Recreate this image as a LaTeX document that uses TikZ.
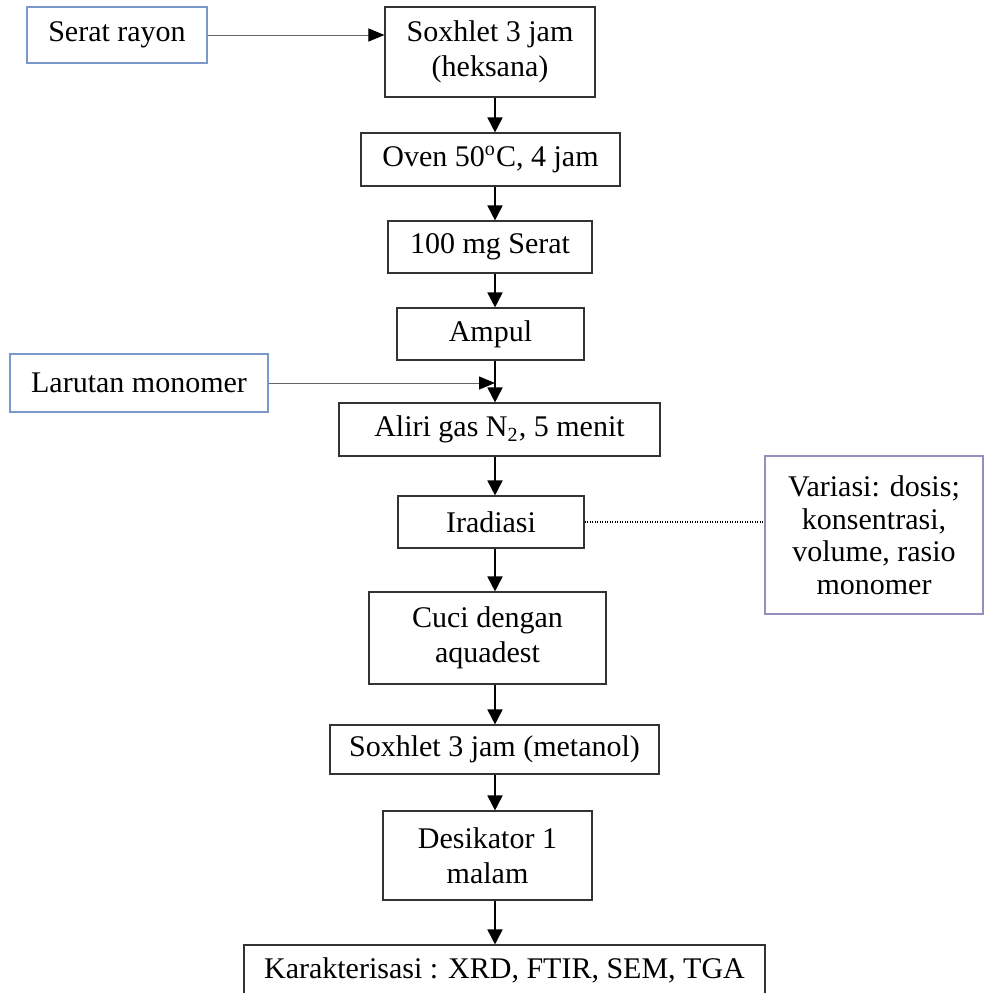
\documentclass[tikz,border=0pt]{standalone}
\usepackage{fontspec}
\setmainfont{Liberation Serif}
\usetikzlibrary{arrows.meta}
\definecolor{inblue}{RGB}{122,152,204}
\definecolor{varpurple}{RGB}{150,140,190}
\tikzset{
  box/.style={draw=black!80, line width=0.45pt, inner sep=0pt, align=center,
    font=\fontsize{12}{13.8}\selectfont},
  inbox/.style={box, draw=inblue},
  varbox/.style={box, draw=varpurple, font=\fontsize{12}{13}\selectfont},
  arr/.style={-{Triangle[length=6pt,width=6pt]}, line width=0.7pt},
  feed/.style={-{Triangle[length=6.4pt,width=5.2pt,color=black]}, line width=0.4pt, draw=black!60},
}
\begin{document}
\begin{tikzpicture}[x=0.4pt,y=-0.4pt]
\useasboundingbox (0,0) rectangle (984,993);
\fill[white] (0,0) rectangle (984,993);
\node[inbox, minimum width=72pt, minimum height=22.4pt] (serat) at (117,35) {Serat rayon};
\node[box, minimum width=84pt, minimum height=36pt] (sox1) at (490,52) {Soxhlet 3 jam\\(heksana)};
\node[box, minimum width=103.6pt, minimum height=21.2pt] (oven) at (490.5,159.5) {Oven 50\textsuperscript{o}C, 4 jam};
\node[box, minimum width=81.6pt, minimum height=20.8pt] (mg) at (490,247) {100 mg Serat};
\node[box, minimum width=74.8pt, minimum height=20.8pt] (ampul) at (490.5,334) {Ampul};
\node[inbox, minimum width=103.2pt, minimum height=23.2pt] (larutan) at (139,383) {Larutan monomer};
\node[box, minimum width=128.4pt, minimum height=21.2pt] (aliri) at (499.5,429.5) {Aliri gas N\textsubscript{2}, 5 menit};
\node[box, minimum width=74.4pt, minimum height=20.8pt] (irad) at (491,522) {Iradiasi};
\node[varbox, minimum width=87.2pt, minimum height=63.2pt] (variasi) at (874,535) {Variasi: dosis;\\konsentrasi,\\volume, rasio\\monomer};
\node[box, minimum width=94.8pt, minimum height=36.8pt] (cuci) at (487.5,638) {Cuci dengan\\aquadest};
\node[box, minimum width=131.6pt, minimum height=19.6pt] (sox2) at (494.5,749.5) {Soxhlet 3 jam (metanol)};
\node[box, minimum width=83.6pt, minimum height=35.6pt] (desik) at (487.5,855.5) {Desikator 1\\malam};
\node[box, minimum width=208.4pt, minimum height=20pt] (karak) at (504.5,970) {Karakterisasi : XRD, FTIR, SEM, TGA};
\coordinate (sp) at (495,0);
\draw[feed] (serat.east) -- (serat.east -| sox1.west);
\draw[feed] (larutan.east) -- (larutan.east -| sp);
\foreach \a/\b in {sox1/oven, oven/mg, mg/ampul, ampul/aliri, aliri/irad, irad/cuci, cuci/sox2, sox2/desik, desik/karak}
  \draw[arr] (\a.south -| sp) -- (\b.north -| sp);
\draw[line width=0.5pt, dash pattern=on 0.5pt off 0.5pt] (irad.east) -- (irad.east -| variasi.west);
\end{tikzpicture}
\end{document}
